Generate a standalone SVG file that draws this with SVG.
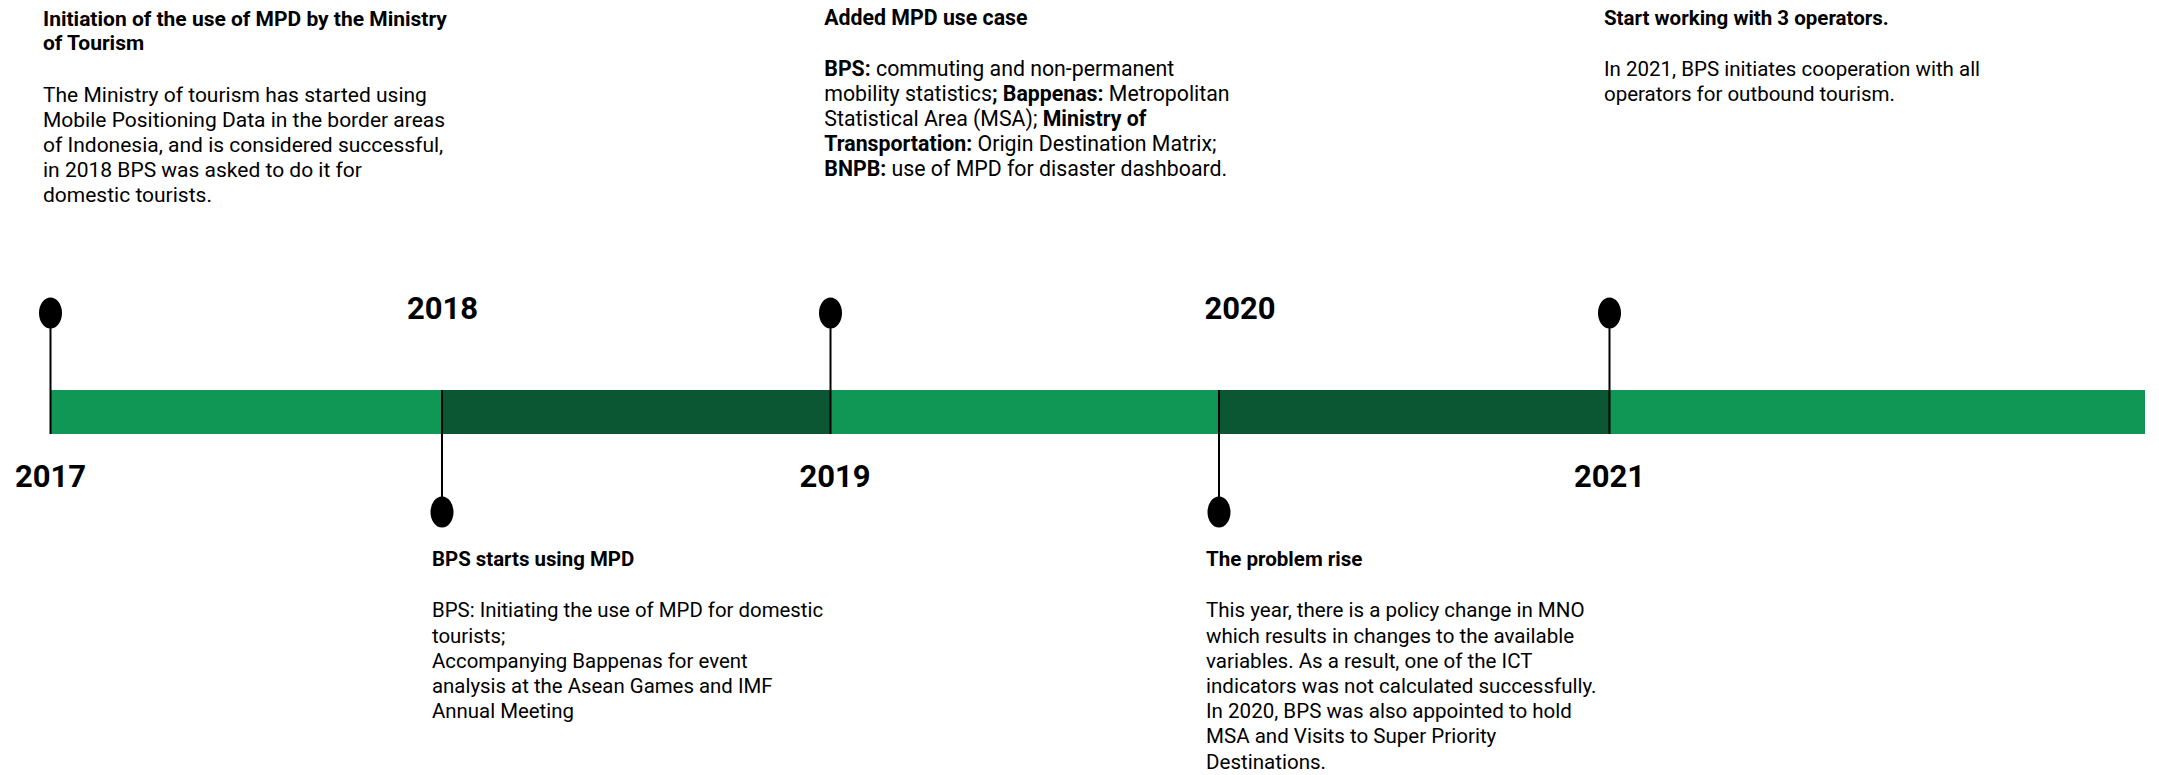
<svg xmlns="http://www.w3.org/2000/svg" width="2159" height="775" viewBox="0 0 2159 775">
<style>
text{font-family:Roboto,"Liberation Sans",sans-serif;fill:#000;}
.t{font-weight:700;}
.b{font-weight:400;}
.bb{font-weight:700;}
.yr{font-size:31px;font-weight:700;text-anchor:middle;}
.lt{fill:#109655;}
.dk{fill:#0B5734;}
.stem{stroke:#000;stroke-width:2;fill:none;}
.pin{fill:#000;}
</style>
<rect width="2159" height="775" fill="#fff"/>
<g id="timeline">
<rect class="lt" x="50" y="390" width="2095" height="44"/>
<rect class="dk" x="442" y="390" width="388" height="44"/>
<rect class="dk" x="1219" y="390" width="391" height="44"/>
</g>
<g id="connectors">
<line class="stem" x1="50.5" y1="326" x2="50.5" y2="434"/>
<line class="stem" x1="442" y1="390" x2="442" y2="498"/>
<line class="stem" x1="830.5" y1="326" x2="830.5" y2="434"/>
<line class="stem" x1="1219" y1="390" x2="1219" y2="498"/>
<line class="stem" x1="1609.5" y1="326" x2="1609.5" y2="434"/>
</g>
<g id="years">
<text class="yr" x="50.5" y="487">2017</text>
<text class="yr" x="442.5" y="319">2018</text>
<text class="yr" x="835" y="487">2019</text>
<text class="yr" x="1240" y="319">2020</text>
<text class="yr" x="1609.5" y="487">2021</text>
</g>
<g id="event-2017" font-size="21">
<ellipse class="pin" cx="50.5" cy="313" rx="11.5" ry="15.5"/>
<text class="t" x="43" y="26">Initiation of the use of MPD by the Ministry</text>
<text class="t" x="43" y="50">of Tourism</text>
<text class="b" x="43" y="101.7">The Ministry of tourism has started using</text>
<text class="b" x="43" y="126.7">Mobile Positioning Data in the border areas</text>
<text class="b" x="43" y="151.7">of Indonesia, and is considered successful,</text>
<text class="b" x="43" y="176.7">in 2018 BPS was asked to do it for</text>
<text class="b" x="43" y="201.7">domestic tourists.</text>
</g>
<g id="event-2018" font-size="20.4">
<ellipse class="pin" cx="442" cy="512" rx="11.5" ry="15.5"/>
<text class="t" x="432" y="565.7">BPS starts using MPD</text>
<text class="b" x="432" y="617.3">BPS: Initiating the use of MPD for domestic</text>
<text class="b" x="432" y="642.5">tourists;</text>
<text class="b" x="432" y="667.7">Accompanying Bappenas for event</text>
<text class="b" x="432" y="692.9">analysis at the Asean Games and IMF</text>
<text class="b" x="432" y="718.1">Annual Meeting</text>
</g>
<g id="event-2019" font-size="21.3">
<ellipse class="pin" cx="830.5" cy="313" rx="11.5" ry="15.5"/>
<text class="t" x="824.3" y="25">Added MPD use case</text>
<text class="b" x="824.3" y="76"><tspan class="bb">BPS:</tspan> commuting and non-permanent</text>
<text class="b" x="824.3" y="101">mobility statistics<tspan class="bb">; Bappenas:</tspan> Metropolitan</text>
<text class="b" x="824.3" y="126">Statistical Area (MSA); <tspan class="bb">Ministry of</tspan></text>
<text class="b" x="824.3" y="151"><tspan class="bb">Transportation:</tspan> Origin Destination Matrix;</text>
<text class="b" x="824.3" y="176"><tspan class="bb">BNPB:</tspan> use of MPD for disaster dashboard.</text>
</g>
<g id="event-2020" font-size="20.55">
<ellipse class="pin" cx="1219" cy="512" rx="11.5" ry="15.5"/>
<text class="t" x="1206" y="565.7">The problem rise</text>
<text class="b" x="1206" y="617.3">This year, there is a policy change in MNO</text>
<text class="b" x="1206" y="642.5">which results in changes to the available</text>
<text class="b" x="1206" y="667.7">variables. As a result, one of the ICT</text>
<text class="b" x="1206" y="692.9">indicators was not calculated successfully.</text>
<text class="b" x="1206" y="718.1">In 2020, BPS was also appointed to hold</text>
<text class="b" x="1206" y="743.3">MSA and Visits to Super Priority</text>
<text class="b" x="1206" y="768.5">Destinations.</text>
</g>
<g id="event-2021" font-size="20.5">
<ellipse class="pin" cx="1609.5" cy="313" rx="11.5" ry="15.5"/>
<text class="t" x="1604" y="25">Start working with 3 operators.</text>
<text class="b" x="1604" y="76">In 2021, BPS initiates cooperation with all</text>
<text class="b" x="1604" y="101">operators for outbound tourism.</text>
</g>
</svg>
